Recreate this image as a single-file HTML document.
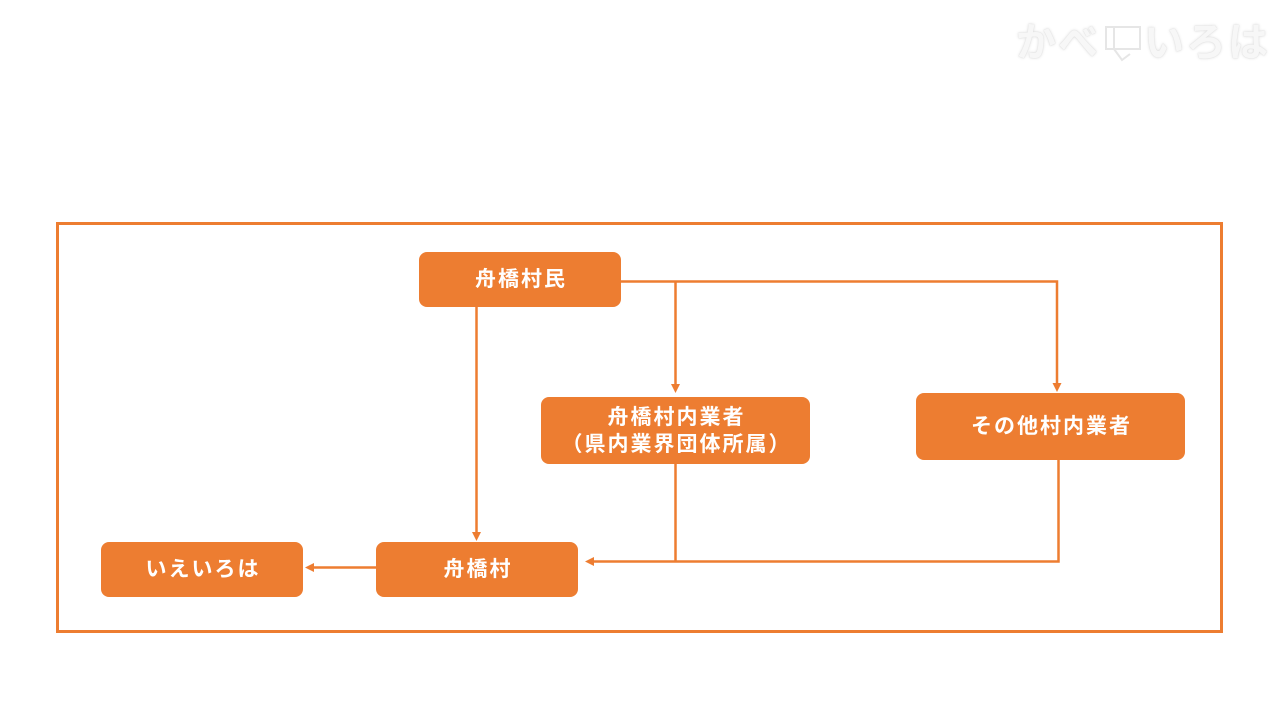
<!DOCTYPE html>
<html><head><meta charset="utf-8">
<style>
html,body{margin:0;padding:0;background:#fff;}
body{width:1280px;height:720px;overflow:hidden;position:relative;font-family:"Liberation Sans","Noto Sans CJK JP",sans-serif;}
.node{position:absolute;background:#ED7D31;border-radius:8px;color:#fff;font-weight:bold;font-size:21px;letter-spacing:2px;display:flex;align-items:center;justify-content:center;text-align:center;line-height:27px;padding-left:2px;box-sizing:border-box;}
svg{position:absolute;left:0;top:0;}
.wm{position:absolute;left:1016px;top:10px;font-size:40px;font-weight:bold;color:#f7f7f7;text-shadow:0 0 3px #ddd,0 0 1px #ccc;letter-spacing:2px;font-family:"Liberation Sans","Noto Sans CJK JP",sans-serif;}
</style></head>
<body>
<div class="wm">かべ<span style="display:inline-block;width:44px;"></span>いろは</div>
<svg width="1280" height="720" viewBox="0 0 1280 720">
  <g fill="none" stroke="#e6e6e6" stroke-width="2">
    <rect x="1106" y="27" width="34" height="22"/>
    <line x1="1114" y1="27" x2="1114" y2="49"/>
    <path d="M1114 49 L1122 60 L1130 54"/>
  </g>
  <rect x="57.5" y="223.5" width="1164" height="408" fill="none" stroke="#ED7D31" stroke-width="3"/>
  <g stroke="#ED7D31" stroke-width="2.5" fill="none">
    <polyline points="621,281.5 1057,281.5 1057,384"/>
    <line x1="675.5" y1="281.5" x2="675.5" y2="385"/>
    <line x1="476.5" y1="306" x2="476.5" y2="533"/>
    <polyline points="675.5,463 675.5,561.5"/>
    <polyline points="1058.5,460 1058.5,561.5 593,561.5"/>
    <line x1="376" y1="567.5" x2="313" y2="567.5"/>
  </g>
  <g fill="#ED7D31">
    <polygon points="1052.5,383 1061.5,383 1057,392"/>
    <polygon points="671,384 680,384 675.5,393"/>
    <polygon points="472,532 481,532 476.5,541"/>
    <polygon points="594,557 594,566 585,561.5"/>
    <polygon points="314,563 314,572 305,567.5"/>
  </g>
</svg>
<div class="node" style="left:419px;top:252px;width:202px;height:55px;">舟橋村民</div>
<div class="node" style="left:541px;top:397px;width:269px;height:67px;">舟橋村内業者<br>（県内業界団体所属）</div>
<div class="node" style="left:916px;top:393px;width:269px;height:67px;">その他村内業者</div>
<div class="node" style="left:101px;top:542px;width:202px;height:55px;">いえいろは</div>
<div class="node" style="left:376px;top:542px;width:202px;height:55px;">舟橋村</div>
</body></html>
